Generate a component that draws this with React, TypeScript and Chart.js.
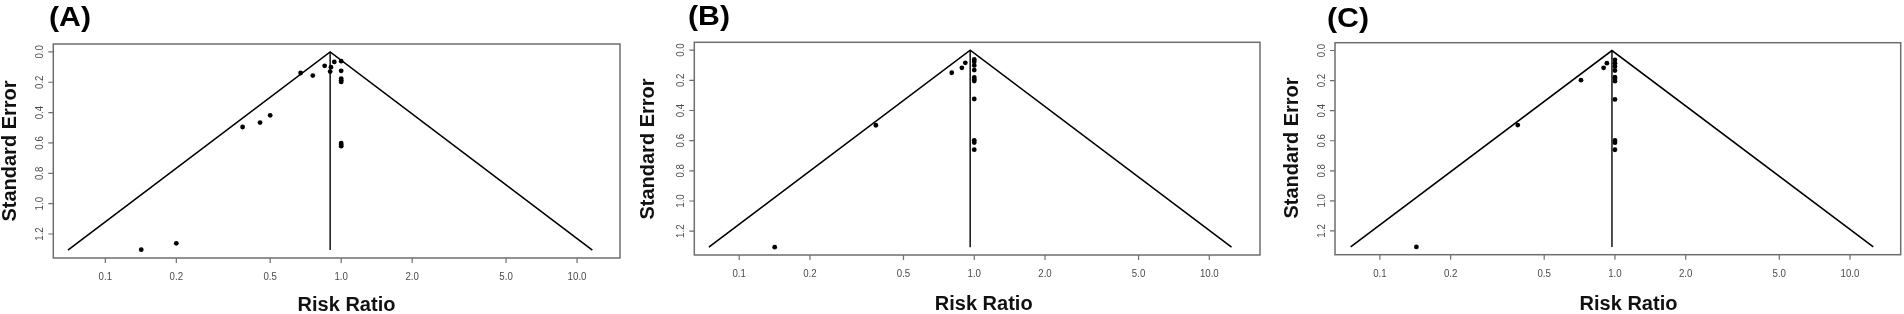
import React, { useEffect, useRef } from "react";
import { Chart, registerables } from "chart.js";

Chart.register(...registerables);

// ---- Axis ticks & texts ----
const xTickValues = [0.1, 0.2, 0.5, 1, 2, 5, 10];
const xTickLabels = ["0.1", "0.2", "0.5", "1.0", "2.0", "5.0", "10.0"];
const yTickValues = [0, 0.2, 0.4, 0.6, 0.8, 1.0, 1.2];
const yTickLabels = ["0.0", "0.2", "0.4", "0.6", "0.8", "1.0", "1.2"];
const panelLabels = ["(A)", "(B)", "(C)"];
const xAxisTitle = "Risk Ratio";
const yAxisTitle = "Standard Error";

// ---- Panel A ----
const riskRatioA = [0.142, 0.2, 0.382, 0.453, 0.5, 0.673, 0.758, 0.851, 0.905, 0.898, 0.935, 1.0, 1.0, 1.0, 1.0, 1.0, 1.0, 1.0, 1.0];
const stdErrorA = [1.303, 1.261, 0.495, 0.466, 0.418, 0.139, 0.156, 0.092, 0.101, 0.13, 0.066, 0.061, 0.125, 0.176, 0.187, 0.198, 0.601, 0.612, 0.621];
const funnelXA = [0.0694, 0.898, 11.61];
const funnelYA = [1.306, 0, 1.306];

// ---- Panel B ----
const riskRatioB = [0.1416, 0.3815, 0.802, 0.886, 0.916, 1, 1, 1, 1, 1, 1, 1, 1, 1, 1, 1];
const stdErrorB = [1.306, 0.498, 0.15, 0.117, 0.084, 0.062, 0.077, 0.101, 0.132, 0.181, 0.194, 0.205, 0.324, 0.598, 0.613, 0.66];
const funnelXB = [0.0743, 0.961, 12.43];
const funnelYB = [1.306, 0, 1.306];

// ---- Panel C ----
const riskRatioC = [0.143, 0.386, 0.717, 0.895, 0.924, 1, 1, 1, 1, 1, 1, 1, 1, 1, 1, 1];
const stdErrorC = [1.306, 0.496, 0.197, 0.115, 0.084, 0.062, 0.084, 0.106, 0.133, 0.177, 0.19, 0.204, 0.325, 0.598, 0.613, 0.66];
const funnelXC = [0.0751, 0.971, 12.56];
const funnelYC = [1.306, 0, 1.306];

const xRangeA = [0.06018, 15.21];
const xRangeBC = [0.06442, 16.43];
const yRange = [-0.052, 1.358];

type PanelData = {
  label: string;
  rr: number[];
  se: number[];
  fx: number[];
  fy: number[];
  xr: number[];
};

type Layout = {
  left: number;
  width: number;
  yAxisW: number;
  padRight: number;
  padTop: number;
  xAxisH: number;
  xTitleX: number;
  xTitleBase: number;
  yTitleX: number;
  yTitleY: number;
  labelX: number;
  labelBase: number;
};

const panels: PanelData[] = [
  { label: panelLabels[0], rr: riskRatioA, se: stdErrorA, fx: funnelXA, fy: funnelYA, xr: xRangeA },
  { label: panelLabels[1], rr: riskRatioB, se: stdErrorB, fx: funnelXB, fy: funnelYB, xr: xRangeBC },
  { label: panelLabels[2], rr: riskRatioC, se: stdErrorC, fx: funnelXC, fy: funnelYC, xr: xRangeBC },
];

const layouts: Layout[] = [
  { left: 0, width: 640, yAxisW: 53.3, padRight: 20, padTop: 44, xAxisH: 56, xTitleX: 346.5, xTitleBase: 311, yTitleX: 10, yTitleY: 151, labelX: 49, labelBase: 26 },
  { left: 640, width: 632, yAxisW: 54.3, padRight: 12, padTop: 42.3, xAxisH: 59, xTitleX: 343.7, xTitleBase: 310, yTitleX: 8, yTitleY: 149, labelX: 48, labelBase: 25 },
  { left: 1272, width: 632, yAxisW: 63, padRight: 3.3, padTop: 42.7, xAxisH: 59.3, xTitleX: 356.5, xTitleBase: 310, yTitleX: 20, yTitleY: 148, labelX: 55, labelBase: 27 },
];

const FONT = "'Liberation Sans', Arial, Helvetica, sans-serif";

function makeDecor(L: Layout, label: string) {
  return {
    id: "decor",
    afterDraw(chart: any) {
      const { ctx, chartArea: a } = chart;
      const x = chart.scales.x;
      const y = chart.scales.y;
      ctx.save();
      // box
      ctx.strokeStyle = "#6e6e6e";
      ctx.lineWidth = 1.5;
      ctx.strokeRect(a.left, a.top, a.right - a.left, a.bottom - a.top);
      // tick marks
      ctx.beginPath();
      xTickValues.forEach((v) => {
        const px = x.getPixelForValue(v);
        ctx.moveTo(px, a.bottom);
        ctx.lineTo(px, a.bottom + 5);
      });
      yTickValues.forEach((v) => {
        const py = y.getPixelForValue(v);
        ctx.moveTo(a.left, py);
        ctx.lineTo(a.left - 5, py);
      });
      ctx.lineWidth = 1.2;
      ctx.stroke();
      // tick labels
      ctx.fillStyle = "#4a4a4a";
      ctx.font = `11px ${FONT}`;
      ctx.textAlign = "center";
      ctx.textBaseline = "middle";
      xTickValues.forEach((v, i) => {
        const px = x.getPixelForValue(v);
        ctx.save();
        ctx.translate(px, a.bottom + 19);
        ctx.scale(0.88, 1);
        ctx.fillText(xTickLabels[i], 0, 0);
        ctx.restore();
      });
      yTickValues.forEach((v, i) => {
        const py = y.getPixelForValue(v);
        ctx.save();
        ctx.translate(a.left - 13, py);
        ctx.rotate(-Math.PI / 2);
        ctx.scale(0.88, 1);
        ctx.fillText(yTickLabels[i], 0, 0);
        ctx.restore();
      });
      // axis titles
      ctx.fillStyle = "#111";
      ctx.font = `bold 20px ${FONT}`;
      ctx.textAlign = "center";
      ctx.textBaseline = "alphabetic";
      ctx.fillText(xAxisTitle, L.xTitleX, L.xTitleBase);
      ctx.save();
      ctx.translate(L.yTitleX, L.yTitleY);
      ctx.rotate(-Math.PI / 2);
      ctx.textBaseline = "middle";
      ctx.fillText(yAxisTitle, 0, 0);
      ctx.restore();
      // panel label
      ctx.save();
      ctx.fillStyle = "#000";
      ctx.font = `bold 27px ${FONT}`;
      ctx.textAlign = "left";
      ctx.textBaseline = "alphabetic";
      ctx.translate(L.labelX, L.labelBase);
      ctx.scale(1.12, 1);
      ctx.fillText(label, 0, 0);
      ctx.restore();
      ctx.restore();
    },
  };
}

function FunnelPanel({ data, L }: { data: PanelData; L: Layout }) {
  const ref = useRef<HTMLCanvasElement | null>(null);
  useEffect(() => {
    if (!ref.current) return;
    const points = data.rr.map((v, i) => ({ x: v, y: data.se[i] }));
    const funnel = data.fx.map((v, i) => ({ x: v, y: data.fy[i] }));
    const vline = [
      { x: data.fx[1], y: data.fy[1] },
      { x: data.fx[1], y: data.fy[0] },
    ];
    const chart = new Chart(ref.current, {
      type: "scatter",
      data: {
        datasets: [
          {
            data: points,
            showLine: false,
            pointRadius: 2.4,
            pointBackgroundColor: "#000",
            pointBorderWidth: 0,
            pointHoverRadius: 2.4,
          },
          {
            data: funnel,
            showLine: true,
            borderColor: "#000",
            borderWidth: 1.6,
            pointRadius: 0,
            pointHoverRadius: 0,
            fill: false,
          },
          {
            data: vline,
            showLine: true,
            borderColor: "#222",
            borderWidth: 1.6,
            pointRadius: 0,
            pointHoverRadius: 0,
            fill: false,
          },
        ],
      },
      options: {
        responsive: false,
        animation: false,
        devicePixelRatio: 1,
        layout: { padding: { left: 0, right: L.padRight, top: L.padTop, bottom: 0 } },
        plugins: { legend: { display: false }, tooltip: { enabled: false }, title: { display: false } },
        events: [],
        scales: {
          x: {
            type: "logarithmic",
            min: data.xr[0],
            max: data.xr[1],
            grid: { display: false },
            border: { display: false },
            ticks: { display: false },
            afterBuildTicks: (s: any) => {
              s.ticks = xTickValues.map((v) => ({ value: v }));
            },
            afterFit: (s: any) => {
              s.height = L.xAxisH;
            },
          },
          y: {
            type: "linear",
            reverse: true,
            min: yRange[0],
            max: yRange[1],
            grid: { display: false },
            border: { display: false },
            ticks: { display: false },
            afterBuildTicks: (s: any) => {
              s.ticks = yTickValues.map((v) => ({ value: v }));
            },
            afterFit: (s: any) => {
              s.width = L.yAxisW;
            },
          },
        },
      },
      plugins: [makeDecor(L, data.label)],
    } as any);
    return () => chart.destroy();
  }, [data, L]);
  return (
    <canvas
      ref={ref}
      width={L.width}
      height={314}
      style={{ position: "absolute", left: L.left, top: 0, width: L.width, height: 314 }}
    />
  );
}

export default function App() {
  return (
    <div style={{ position: "absolute", left: 0, top: 0, width: 1904, height: 314, background: "#fff" }}>
      {panels.map((p, i) => (
        <FunnelPanel key={i} data={p} L={layouts[i]} />
      ))}
    </div>
  );
}
